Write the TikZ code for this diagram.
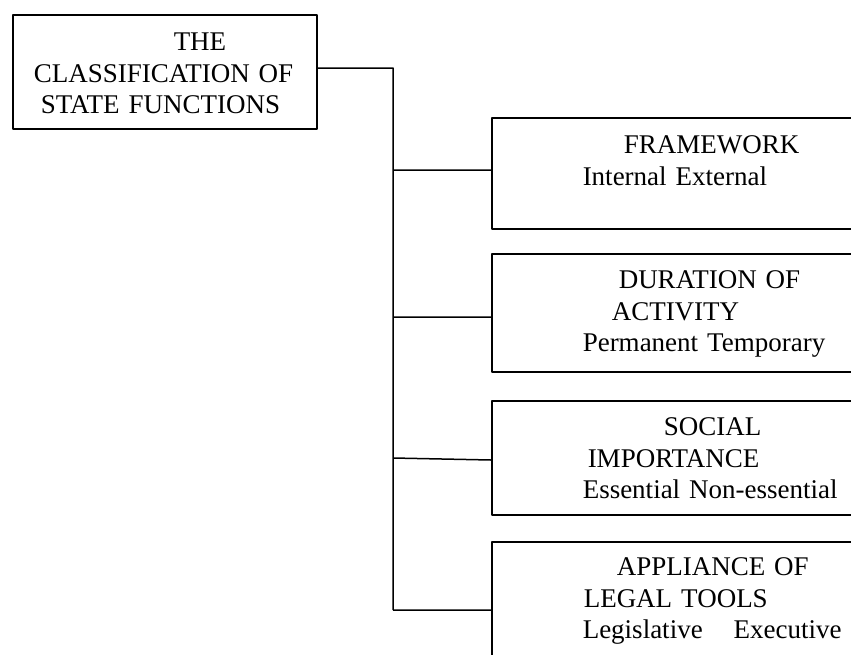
\documentclass[tikz,border=0pt]{standalone}
\usepackage{fontspec}
\setmainfont{Liberation Serif}
\newcommand{\ind}[1]{\hspace*{#1pt}}
\begin{document}
\begin{tikzpicture}[x=1pt,y=-1pt,line join=round,line width=1.5pt,
	font=\fontsize{27}{31.5}\selectfont,
	box/.style={draw,anchor=north west,inner sep=0pt,align=left},
	kind/.style={box,text width=420pt}]
	\useasboundingbox (0,0) rectangle (851,654);
	\clip (0,0) rectangle (851,654);
	% main box
	\node[box,text width=304pt,text height=36pt,text depth=78pt] (root) at (12,14)
	{\ind{161}THE\\ \ind{21}CLASSIFICATION OF\\ \ind{28}STATE FUNCTIONS};
	% kinds
	\node[kind,text height=36pt,text depth=75pt] (frame) at (491,117)
	{\ind{132}FRAMEWORK\\ \ind{91}Internal External};
	\node[kind,text height=35pt,text depth=83pt] (dur) at (491,253)
	{\ind{127}DURATION OF\\ \ind{120}ACTIVITY\\ \ind{91}Permanent Temporary};
	\node[kind,text height=35pt,text depth=79pt] (soc) at (491,400)
	{\ind{172}SOCIAL\\ \ind{96}IMPORTANCE\\ \ind{91}Essential Non-essential};
	\node[kind,text height=34pt,text depth=116pt] (tool) at (491,541)
	{\ind{125}APPLIANCE OF\\ \ind{92}LEGAL TOOLS\\ \ind{91}Legislative\hspace{31pt}Executive};
	\path
	(393,68) coordinate (bus)
	(393,170) coordinate (j1)
	(393,317) coordinate (j2)
	(393,458) coordinate (j3)
	(393,610) coordinate (j4)
	;
	\draw
	(root.east|-bus)--(bus)--(j4)
	(j1)--(j1-|frame.west)
	(j2)--(j2-|dur.west)
	(j3)--([yshift=-2pt]j3-|soc.west)
	(j4)--(j4-|tool.west)
	;
\end{tikzpicture}
\end{document}
